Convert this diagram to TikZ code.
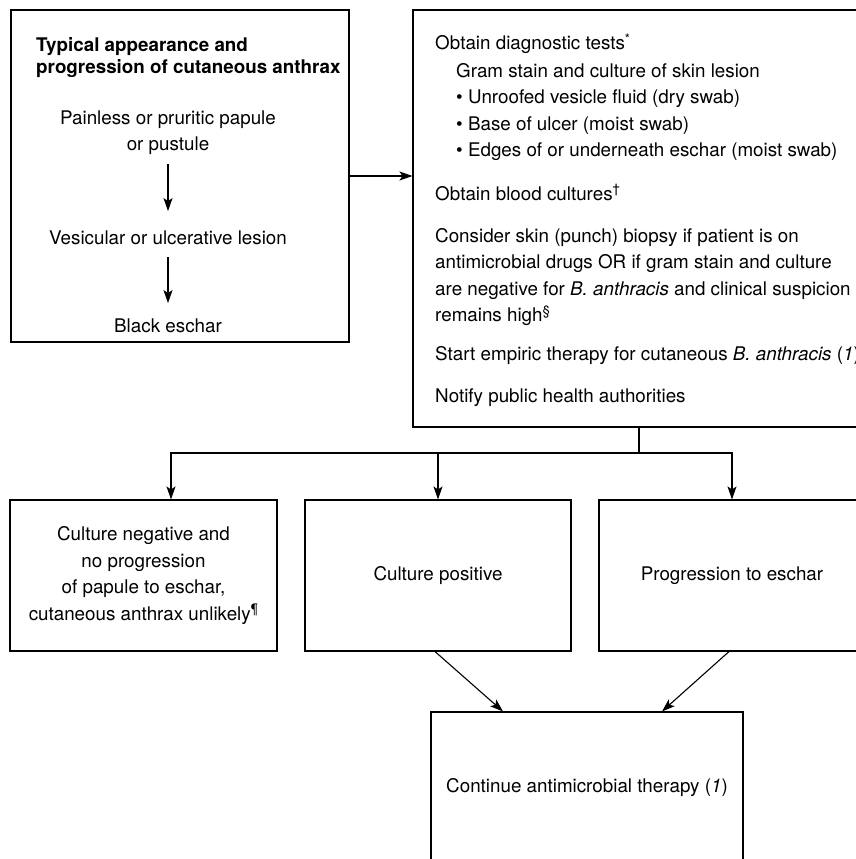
\documentclass[tikz,border=0pt]{standalone}
\usepackage{fontspec}
\setmainfont{TeX Gyre Heros}
\usetikzlibrary{arrows.meta}
\tikzstyle{flowbox} = [draw=black, fill=white, line width=1.1pt,
rectangle, inner sep=0pt, align=center, font=\fontsize{18.8}{26.5}\selectfont]
\tikzstyle{flowtext} = [inner sep=0pt, align=left, font=\fontsize{18.8}{26.5}\selectfont]
\tikzstyle{flowarrow} = [line width=1.1pt, -{Stealth[length=13pt,width=9pt,inset=3pt]}]

\begin{document}
\begin{tikzpicture}[x=1pt,y=-1pt]
		\useasboundingbox (0,0) rectangle (856,859);
		\clip (0,0) rectangle (856,859);
		% boxes
		\node [flowbox, minimum width=338pt, minimum height=332pt] (typbox) at (180,176) {};
		\node [flowbox, minimum width=452pt, minimum height=417pt] (testbox) at (639,218.5) {};
		\node [flowbox, minimum width=267pt, minimum height=151pt] (negbox) at (143.5,575.5) {Culture negative and\\no progression\\of papule to eschar,\\cutaneous anthrax unlikely\textsuperscript{¶}};
		\node [flowbox, minimum width=266pt, minimum height=151pt] (posbox) at (438,575.5) {Culture positive};
		\node [flowbox, minimum width=266pt, minimum height=151pt] (escbox) at (732,575.5) {Progression to eschar};
		\node [flowbox, minimum width=312pt, minimum height=152pt] (contbox) at (587,788) {Continue antimicrobial therapy (\textit{1})};
		
		% left box (base = last line)
		\node [flowtext, anchor=base west, font=\fontsize{18.8}{21.5}\selectfont\bfseries] (title) at (36,73.5) {Typical appearance and\\progression of cutaneous anthrax};
		\node [flowtext, anchor=base, align=center] (papule) at (168,150.5) {Painless or pruritic papule\\or pustule};
		\node [flowtext, anchor=base] (vesicle) at (168,244) {Vesicular or ulcerative lesion};
		\node [flowtext, anchor=base] (eschar) at (168,332) {Black eschar};
		\draw [flowarrow, shorten <=9pt, shorten >=19pt] (papule) -- (vesicle);
		\draw [flowarrow, shorten <=13pt, shorten >=15pt] (vesicle) -- (eschar);
		
		% right box
		\node [flowtext, anchor=base west] (diag) at (435,50) {Obtain diagnostic tests\textsuperscript{*}};
		\node [flowtext, anchor=base west] (gram) at (456,156.5) {Gram stain and culture of skin lesion\\
			\textbullet\ Unroofed vesicle fluid (dry swab)\\
			\textbullet\ Base of ulcer (moist swab)\\
			\textbullet\ Edges of or underneath eschar (moist swab)};
		\node [flowtext, anchor=base west] (blood) at (435,200) {Obtain blood cultures\textsuperscript{†}};
		\node [flowtext, anchor=base west] (biopsy) at (435,321.5) {Consider skin (punch) biopsy if patient is on\\
			antimicrobial drugs OR if gram stain and culture\\
			are negative for \textit{B. anthracis} and clinical suspicion\\
			remains high\textsuperscript{§}};
		\node [flowtext, anchor=base west] (empiric) at (435,360) {Start empiric therapy for cutaneous \textit{B. anthracis} (\textit{1})};
		\node [flowtext, anchor=base west] (notify) at (435,402) {Notify public health authorities};
		
		% connectors
		\draw [flowarrow] (typbox.east) -- (typbox.east -| testbox.west);
		\coordinate (split) at (639,453);
		\draw [line width=1.1pt] (testbox.south) -- (split);
		\draw [flowarrow] (split) -| ([xshift=27.5pt]negbox.north);
		\draw [flowarrow] (split) -| (escbox.north);
		\draw [flowarrow] (split -| posbox.north) -- (posbox.north);
		\draw [flowarrow] ([xshift=-3pt]posbox.south) -- ([xshift=-84pt]contbox.north);
		\draw [flowarrow] ([xshift=-3pt]escbox.south) -- ([xshift=75pt]contbox.north);
\end{tikzpicture}
\end{document}
